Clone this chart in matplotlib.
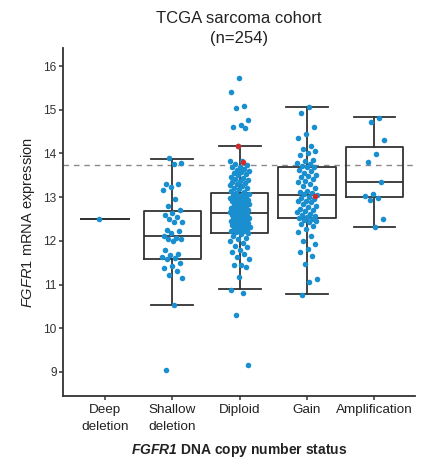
import numpy as np
import matplotlib
matplotlib.use("Agg")
from matplotlib import pyplot as plt

plt.rcParams['font.family'] = ['Liberation Sans', 'DejaVu Sans']
plt.rcParams['mathtext.fontset'] = 'custom'
plt.rcParams['mathtext.rm'] = 'Liberation Sans'
plt.rcParams['mathtext.it'] = 'Liberation Sans:italic'
plt.rcParams['mathtext.bf'] = 'Liberation Sans:bold'
plt.rcParams['mathtext.bfit'] = 'Liberation Sans:italic:bold'

categories = ['Deep\ndeletion', 'Shallow\ndeletion', 'Diploid', 'Gain', 'Amplification']

# box statistics: lower whisker, Q1, median, Q3, upper whisker
whislo = [12.50, 10.54, 10.89, 10.78, 12.31]
q1 = [12.50, 11.58, 12.19, 12.52, 13.00]
med = [12.50, 12.11, 12.64, 13.06, 13.35]
q3 = [12.50, 12.68, 13.09, 13.68, 14.15]
whishi = [12.50, 13.88, 14.18, 15.07, 14.83]

deep = [12.50]
shallow = [13.89, 13.79, 13.76, 13.31, 13.30, 13.24, 13.16, 12.96, 12.80, 12.70,
           12.63, 12.60, 12.55, 12.51, 12.42, 12.42, 12.25, 12.23, 12.17, 12.12,
           12.07, 12.04, 12.04, 12.00, 11.78, 11.70, 11.68, 11.64, 11.61, 11.59,
           11.49, 11.43, 11.38, 11.32, 11.21, 11.14, 10.54, 9.04]
diploid = [15.73, 15.41, 15.09, 15.03, 14.76, 14.65, 14.61, 14.59, 14.17, 13.83,
           13.82, 13.76, 13.74, 13.70, 13.68, 13.65, 13.62, 13.60, 13.57, 13.55,
           13.52, 13.50, 13.47, 13.44, 13.42, 13.40, 13.37, 13.35, 13.32, 13.30,
           13.28, 13.25, 13.22, 13.20, 13.18, 13.15, 13.12, 13.10,
           13.08, 13.06, 13.05, 13.03, 13.01, 12.99, 12.97, 12.96, 12.94, 12.92,
           12.90, 12.88, 12.87, 12.85, 12.83, 12.81, 12.80, 12.78, 12.76, 12.75,
           12.73, 12.71, 12.70, 12.68, 12.67, 12.66, 12.65, 12.64, 12.63, 12.62,
           12.60, 12.58, 12.57, 12.55, 12.53, 12.52, 12.50, 12.48, 12.47, 12.45,
           12.43, 12.42, 12.40, 12.38, 12.37, 12.35, 12.33, 12.32, 12.30, 12.28,
           12.27, 12.25, 12.23, 12.22, 12.20, 12.19,
           12.15, 12.10, 12.06, 12.04, 12.00, 11.95, 11.89, 11.85, 11.80, 11.74,
           11.70, 11.62, 11.58, 11.45, 11.45, 11.39, 11.18, 10.88, 10.80, 10.31, 9.15]
gain = [15.06, 14.92, 14.61, 14.45, 14.36, 14.17, 14.10, 14.05, 14.02, 13.96,
        13.85, 13.83, 13.79, 13.76, 13.72, 13.70, 13.68, 13.62, 13.60, 13.56,
        13.50, 13.49, 13.45, 13.41, 13.38, 13.35, 13.30, 13.25, 13.20, 13.15,
        13.11, 13.09, 13.07, 13.05, 13.00, 12.99, 12.96, 12.92, 12.90, 12.88,
        12.84, 12.80, 12.78, 12.73, 12.70, 12.69, 12.65, 12.61, 12.58, 12.56,
        12.54, 12.52, 12.50, 12.48, 12.46, 12.42, 12.38, 12.35, 12.27, 12.20,
        12.10, 12.00, 11.93, 11.81, 11.75, 11.66, 11.47, 11.13, 11.05, 10.77]
amplification = [14.82, 14.73, 14.31, 13.98, 13.80, 13.34, 13.08, 13.03, 12.97,
                 12.94, 12.50, 12.31]
groups = [deep, shallow, diploid, gain, amplification]

# highlighted (red) samples: category index and value
red_cat = [2, 2, 3]
red_val = [14.17, 13.80, 13.03]

threshold = 13.73


def jitter(n, half, start):
    return ((np.arange(n) * 0.618034 + start) % 1 - 0.5) * 2 * half


fig = plt.figure(figsize=(4.24, 4.62), dpi=100)
ax = fig.add_axes([0.1486, 0.1429, 0.830, 0.753])

dark = '#333333'
blue = '#1a8fd0'
red = '#d42a2a'

stats = []
for i in range(len(categories)):
    stats.append(dict(whislo=whislo[i], q1=q1[i], med=med[i], q3=q3[i],
                      whishi=whishi[i], fliers=[]))
ax.bxp(stats, positions=range(len(categories)),
       widths=[0.71, 0.85, 0.85, 0.85, 0.85], capwidths=0.62,
       showfliers=False, patch_artist=False,
       boxprops=dict(color=dark, linewidth=1.3),
       medianprops=dict(color=dark, linewidth=1.3),
       whiskerprops=dict(color=dark, linewidth=1.3),
       capprops=dict(color=dark, linewidth=1.3), zorder=2)

ax.axhline(threshold, color='#8a8a8a', linewidth=1.0, dashes=(4, 3.5), zorder=1)

for i, vals in enumerate(groups):
    x = i + jitter(len(vals), 0.15, 0.13 * i + 0.2)
    ax.scatter(x, vals, s=16, color=blue, linewidths=0, zorder=3)

rx = np.array(red_cat) + np.array([-0.03, 0.05, 0.12])
ax.scatter(rx, red_val, s=16, color=red, linewidths=0, zorder=4)

ax.set_xlim(-0.62, 4.6)
ax.set_ylim(8.45, 16.41)
ax.set_yticks(range(9, 17))
ax.set_xticks(range(len(categories)))
ax.set_xticklabels(categories, fontsize=9.7, color='#222222', linespacing=1.5)
ax.tick_params(axis='y', labelsize=8.6, length=3, width=1.1, color=dark,
               labelcolor='#333333', pad=1.5)
ax.tick_params(axis='x', length=3, width=1.1, color=dark, pad=3)

for side in ['top', 'right']:
    ax.spines[side].set_visible(False)
for side in ['left', 'bottom']:
    ax.spines[side].set_linewidth(1.3)
    ax.spines[side].set_color(dark)

ax.set_title('TCGA sarcoma cohort\n(n=254)', fontsize=12, linespacing=1.4,
             pad=4, color='#222222')
ax.set_ylabel(r'$\mathit{FGFR1}$ mRNA expression', fontsize=10.5,
              color='#222222', labelpad=5)
ax.set_xlabel(r'$\mathbfit{FGFR1}$ DNA copy number status', fontsize=10,
              fontweight='bold', color='#222222', labelpad=6)

fig.savefig('out.png', dpi=100)
